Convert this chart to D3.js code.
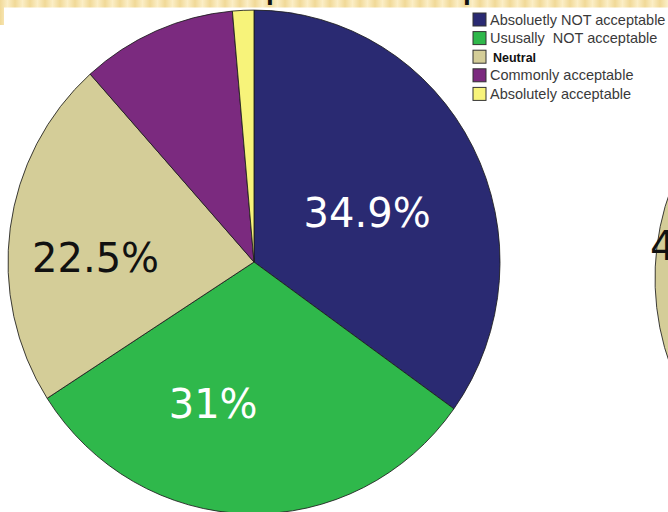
<!DOCTYPE html>
<html><head><meta charset="utf-8">
<script src="https://cdn.jsdelivr.net/npm/d3@7"></script>
<style>html,body{margin:0;padding:0;background:#fff;overflow:hidden}</style>
</head><body>
<svg id="chart" width="668" height="512"></svg>
<script>
// Survey answers, share of respondents per answer (percent)
const categories = ["Absoluetly NOT acceptable", "Ususally  NOT acceptable", "Neutral", "Commonly acceptable", "Absolutely acceptable"];
const sharesLeft = [34.9, 31, 22.5, 10.2, 1.4];
const sharesRight = [19.5, 25.3, 41.2, 11.3, 2.7];
const labelled = [true, true, true, false, false];
const colors = ["#2a2a72", "#2fb84b", "#d4cd98", "#7b2a7f", "#f7f37a"];
const labelInk = ["#ffffff", "#ffffff", "#111111", "#111111", "#111111"];

const W = 668, H = 512;
const svg = d3.select("#chart");

// decorative banner strip along the top edge
const defs = svg.append("defs");
const grad = defs.append("linearGradient").attr("id", "bandGrad")
  .attr("x1", 0).attr("x2", 1).attr("y1", 0).attr("y2", 0);
grad.append("stop").attr("offset", "0%").attr("stop-color", "#f1d997");
grad.append("stop").attr("offset", "50%").attr("stop-color", "#fbeec6");
grad.append("stop").attr("offset", "100%").attr("stop-color", "#f1d997");
const pat = defs.append("pattern").attr("id", "bandPat")
  .attr("patternUnits", "userSpaceOnUse").attr("width", 15).attr("height", 30);
pat.append("rect").attr("width", 15).attr("height", 30).attr("fill", "url(#bandGrad)");

svg.append("rect").attr("x", 0).attr("y", 0).attr("width", W).attr("height", 7.5).attr("fill", "url(#bandPat)");
svg.append("rect").attr("x", 0).attr("y", 0).attr("width", 4).attr("height", 25).attr("fill", "url(#bandPat)");

// title sits mostly above the visible area
svg.append("g").selectAll("text").data([266, 463]).join("text")
  .attr("x", d => d).attr("y", -1)
  .attr("font-family", "Liberation Sans, Arial, sans-serif")
  .attr("font-weight", "bold").attr("font-size", 28)
  .attr("fill", "#111").text("p");

const pie = d3.pie().sort(null).value(d => d);
const R = 246, STRETCH = 1.024;

function drawPie(values, cx, cy, spots) {
  const g = svg.append("g").attr("transform", `translate(${cx},${cy})`);
  const arc = d3.arc().innerRadius(0).outerRadius(R);
  const arcs = pie(values);
  g.append("g").attr("transform", `scale(1,${STRETCH})`)
    .selectAll("path").data(arcs).join("path")
    .attr("d", arc)
    .attr("fill", (d, i) => colors[i])
    .attr("stroke", "#1d1d1d").attr("stroke-width", 1).attr("stroke-opacity", 0.85)
    .attr("vector-effect", "non-scaling-stroke");
  g.selectAll("text").data(arcs.filter((d, i) => labelled[i] && spots[i])).join("text")
    .attr("x", d => spots[d.index][0] * R)
    .attr("y", d => spots[d.index][1] * R)
    .attr("text-anchor", d => spots[d.index][2] || "middle")
    .attr("font-family", "DejaVu Sans, sans-serif")
    .attr("font-size", 40)
    .attr("fill", d => labelInk[d.index])
    .text(d => `${d.data}%`);
}

// label anchor points as fractions of the radius, relative to the centre
drawPie(sharesLeft, 254, 262, [[0.46, -0.142], [-0.166, 0.634], [-0.644, 0.041]]);
drawPie(sharesRight, 901, 278, [null, null, [-1.02, -0.075, "start"]]);

// legend
const legend = svg.append("g").attr("transform", "translate(473,13)");
const rows = legend.selectAll("g").data(categories).join("g")
  .attr("transform", (d, i) => `translate(0,${i * 18.6})`);
rows.append("rect").attr("width", 13).attr("height", 13)
  .attr("fill", (d, i) => colors[i]).attr("stroke", "#333").attr("stroke-width", 1);
rows.append("text")
  .attr("x", d => d === "Neutral" ? 20 : 17)
  .attr("y", 11.5)
  .style("white-space", "pre")
  .attr("font-family", "Liberation Sans, Arial, sans-serif")
  .attr("font-size", d => d === "Neutral" ? 12.5 : 14.5)
  .attr("font-weight", d => d === "Neutral" ? "bold" : "normal")
  .attr("fill", d => d === "Neutral" ? "#111" : "#3a3a3a")
  .text(d => d);
</script>
</body></html>
